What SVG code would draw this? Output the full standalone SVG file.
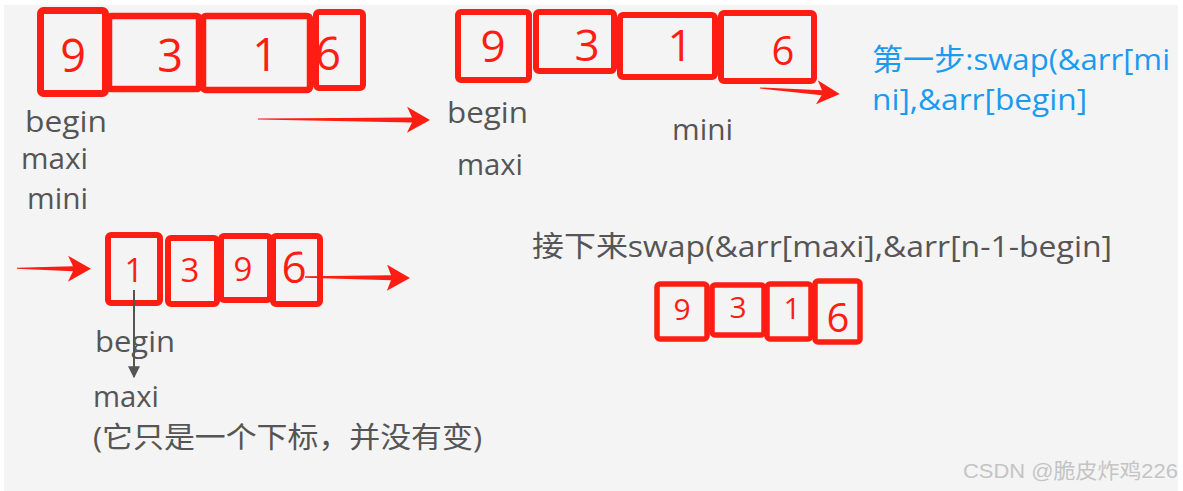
<svg xmlns="http://www.w3.org/2000/svg" width="1183" height="491" viewBox="0 0 1183 491">
<style>
.bg{fill:#f4f4f4}
.box{fill:none;stroke:#fe1d12;stroke-linejoin:round}
.num{fill:#fe1d12;font-family:"Open Sans","Noto Sans",sans-serif;font-weight:400;text-anchor:middle}
.lbl{fill:#555555;font-family:"Open Sans","Noto Sans CJK SC",sans-serif;font-size:29px}
.blue{fill:#1a9af0;font-family:"Open Sans","Noto Sans CJK SC",sans-serif;font-size:30px}
.arrow{fill:#fe1d12}
.wm{fill:#c4c4c4;font-family:"Liberation Sans","Noto Sans CJK SC",sans-serif;font-size:21px}
</style>
<defs>
<marker id="grayhead" viewBox="0 0 10 10" refX="9" refY="5" markerWidth="6" markerHeight="6.5" markerUnits="strokeWidth" orient="auto">
<path d="M0,0 L10,5 L0,10 Z" fill="#555555"/>
</marker>
</defs>
<rect x="0" y="0" width="1183" height="491" fill="#ffffff"/>
<rect class="bg" x="4" y="5" width="1174" height="486"/>

<g id="array1">
<rect class="box" x="40.5" y="10.5" width="65" height="83" rx="3" stroke-width="7"/>
<rect class="box" x="109" y="16" width="90" height="73" rx="2" stroke-width="6.5"/>
<rect class="box" x="203" y="16" width="107" height="74" rx="3" stroke-width="6.5"/>
<rect class="box" x="316" y="12" width="47" height="76" rx="3" stroke-width="6"/>
<text class="num" x="73" y="72" font-size="45">9</text>
<text class="num" x="170" y="72" font-size="45">3</text>
<text class="num" x="265" y="71" font-size="45">1</text>
<text class="num" x="328" y="70" font-size="45">6</text>
</g>
<g id="labels1">
<text class="lbl" x="25" y="131.5" textLength="82" lengthAdjust="spacingAndGlyphs">begin</text>
<text class="lbl" x="21" y="169" textLength="67" lengthAdjust="spacingAndGlyphs">maxi</text>
<text class="lbl" x="27" y="209" textLength="61" lengthAdjust="spacingAndGlyphs">mini</text>
</g>

<g id="array2">
<rect class="box" x="458" y="12" width="71" height="68" rx="3" stroke-width="6"/>
<rect class="box" x="536" y="12" width="78" height="59" rx="3" stroke-width="6"/>
<rect class="box" x="620" y="15" width="95" height="62" rx="3" stroke-width="6"/>
<rect class="box" x="721" y="13" width="93" height="68" rx="3" stroke-width="6"/>
<text class="num" x="493" y="62" font-size="44">9</text>
<text class="num" x="587" y="61" font-size="44">3</text>
<text class="num" x="680" y="61" font-size="44">1</text>
<text class="num" x="783" y="65" font-size="40">6</text>
</g>
<g id="labels2">
<text class="lbl" x="447" y="123" textLength="81" lengthAdjust="spacingAndGlyphs">begin</text>
<text class="lbl" x="457" y="175" textLength="66" lengthAdjust="spacingAndGlyphs">maxi</text>
<text class="lbl" x="672" y="140" textLength="61" lengthAdjust="spacingAndGlyphs">mini</text>
</g>

<g id="step1">
<text class="blue" x="872" y="70" textLength="298" lengthAdjust="spacingAndGlyphs">第一步:swap(&amp;arr[mi</text>
<text class="blue" x="872" y="110" textLength="215" lengthAdjust="spacingAndGlyphs">ni],&amp;arr[begin]</text>
</g>

<g id="array3">
<rect class="box" x="108" y="235" width="52" height="68" rx="3" stroke-width="6"/>
<rect class="box" x="168" y="238" width="49" height="66" rx="3" stroke-width="6"/>
<rect class="box" x="221" y="236" width="49" height="64" rx="3" stroke-width="6"/>
<rect class="box" x="273" y="236" width="47" height="68" rx="3" stroke-width="6"/>
<text class="num" x="134" y="282" font-size="33">1</text>
<text class="num" x="190" y="282" font-size="33">3</text>
<text class="num" x="243" y="281" font-size="33">9</text>
<text class="num" x="294" y="283" font-size="44">6</text>
</g>
<g id="labels3">
<text class="lbl" x="95" y="352" textLength="80" lengthAdjust="spacingAndGlyphs">begin</text>
<text class="lbl" x="93" y="407" textLength="66" lengthAdjust="spacingAndGlyphs">maxi</text>
<text class="lbl" x="93" y="448" textLength="389" lengthAdjust="spacingAndGlyphs">(它只是一个下标，并没有变)</text>
</g>

<g id="step2">
<text class="lbl" x="532" y="257" textLength="580" lengthAdjust="spacingAndGlyphs">接下来swap(&amp;arr[maxi],&amp;arr[n-1-begin]</text>
</g>

<g id="array4">
<rect class="box" x="657" y="284" width="50" height="55" rx="3" stroke-width="5.5"/>
<rect class="box" x="712" y="285" width="52" height="50" rx="3" stroke-width="5.5"/>
<rect class="box" x="767" y="284" width="44" height="55" rx="3" stroke-width="5.5"/>
<rect class="box" x="815" y="281" width="45" height="61" rx="3" stroke-width="5.5"/>
<text class="num" x="682" y="320" font-size="30">9</text>
<text class="num" x="738" y="318" font-size="30">3</text>
<text class="num" x="792" y="319" font-size="30">1</text>
<text class="num" x="838" y="332" font-size="40">6</text>
</g>

<g id="connectors">
<path class="arrow" transform="translate(258,119) rotate(0.33)" d="M0,-0.5 L154,-2.5 L149,-13 L172,0 L149,13 L154,2.5 L0,0.5 Z"/>
<path class="arrow" transform="translate(760,88) rotate(4.3)" d="M0,-0.5 L62,-2.5 L57,-12 L80,0 L57,12 L62,2.5 L0,0.5 Z"/>
<path class="arrow" transform="translate(17,268.3) rotate(0.4)" d="M0,-0.5 L56,-2.5 L51,-13 L74,0 L51,13 L56,2.5 L0,0.5 Z"/>
<path class="arrow" transform="translate(305,277) rotate(0.5)" d="M0,-0.7 L86,-2.5 L82,-13 L105,0 L82,13 L86,2.5 L0,0.7 Z"/>
<line x1="134" y1="290" x2="134" y2="377" stroke="#555555" stroke-width="2" marker-end="url(#grayhead)"/>
</g>

<text class="wm" x="963" y="478" textLength="215" lengthAdjust="spacingAndGlyphs">CSDN @脆皮炸鸡226</text>
</svg>
